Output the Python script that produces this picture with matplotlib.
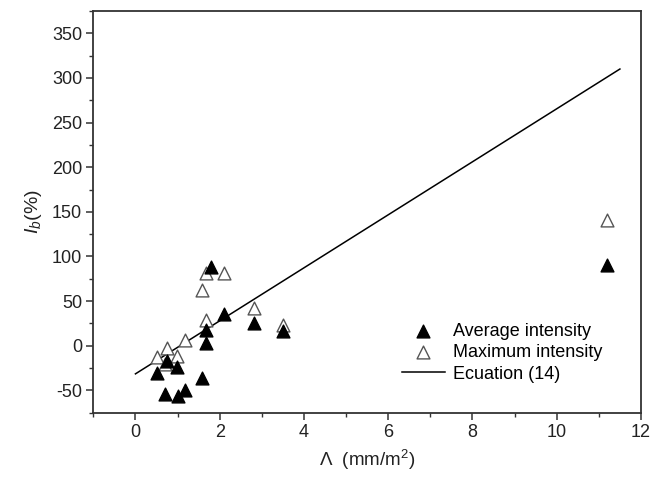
import matplotlib.pyplot as plt
from matplotlib.ticker import MultipleLocator

plt.rcParams['font.family'] = ['Liberation Sans', 'DejaVu Sans']
plt.rcParams['mathtext.fontset'] = 'custom'
plt.rcParams['mathtext.rm'] = 'Liberation Sans'
plt.rcParams['mathtext.it'] = 'Liberation Sans:italic'
plt.rcParams['axes.unicode_minus'] = False

# data
avg_x = [1.80, 2.10, 1.68, 1.68, 2.82, 3.50, 0.51, 0.99, 0.75, 1.57, 0.69, 1.01, 1.17, 11.2]
avg_y = [88, 35, 18, 3, 26, 16, -30, -24, -17, -36, -54, -56, -50, 90]

max_x = [1.67, 2.10, 1.57, 1.67, 2.82, 3.50, 1.17, 0.75, 0.51, 0.99, 0.71, 11.2]
max_y = [82, 82, 62, 29, 42, 23, 6, -3, -13, -12, -20, 141]

# Ecuation (14) endpoints
eq_x = [0.0, 11.5]
eq_y = [-31.5, 310]

fig = plt.figure(figsize=(6.53, 4.82), dpi=100)
ax = fig.add_axes([0.1429, 0.1438, 0.8387, 0.8334])

ax.scatter(avg_x, avg_y, marker='^', s=85, color='black', zorder=3,
           label='Average intensity')
ax.scatter(max_x, max_y, marker='^', s=85, facecolor='white', edgecolor='#555555',
           linewidth=1.0, zorder=2, label='Maximum intensity')
ax.plot(eq_x, eq_y, color='black', lw=1.1, label='Ecuation (14)', zorder=1)

ax.set_xlim(-1, 12)
ax.set_ylim(-75, 375)
ax.set_xticks(range(0, 13, 2))
ax.xaxis.set_minor_locator(MultipleLocator(1))
ax.set_yticks(range(-50, 351, 50))
ax.yaxis.set_minor_locator(MultipleLocator(25))
ax.tick_params(which='major', direction='out', length=5, width=1.1, labelsize=13,
               colors='#333333', labelcolor='#222222', pad=3)
ax.tick_params(which='minor', direction='out', length=3, width=1.0, colors='#333333')
ax.tick_params(top=False, right=False, which='both')
for sp in ax.spines.values():
    sp.set_linewidth(1.3)
    sp.set_color('#333333')

ax.set_xlabel(r'$\Lambda$  (mm/m$^2$)', fontsize=13.5, color='#222222', labelpad=5)
ax.set_ylabel(r'$I_b$(%)', fontsize=14, color='#222222', labelpad=6)

ax.legend(loc='lower left', bbox_to_anchor=(0.563, 0.075), frameon=False,
          fontsize=13, handlelength=2.4, handletextpad=0.45, labelspacing=0.25,
          borderaxespad=0, borderpad=0)

plt.savefig('out.png', dpi=100)
